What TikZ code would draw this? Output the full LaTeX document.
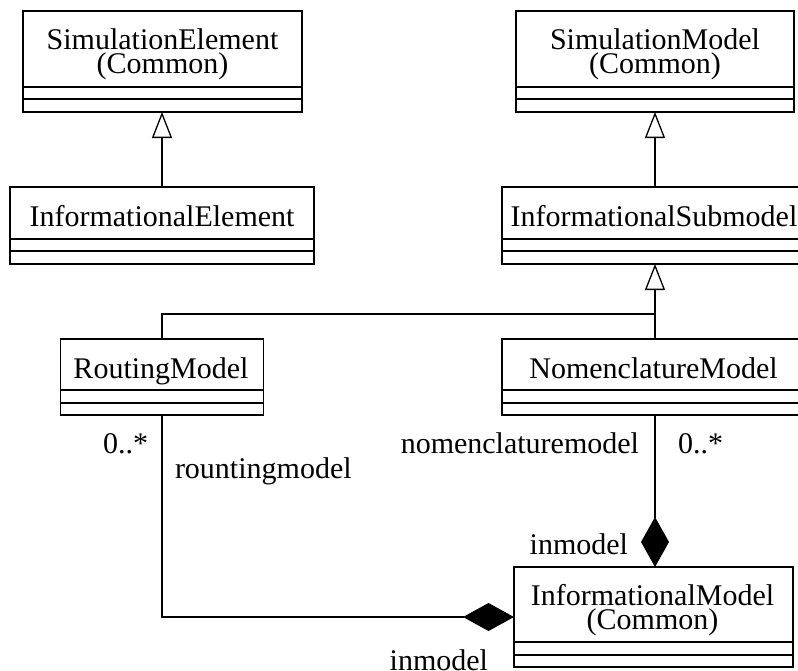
\documentclass[tikz,border=0pt]{standalone}
\usepackage{fontspec}
\setmainfont{Liberation Serif}
\usetikzlibrary{arrows.meta}
\tikzset{
  clsbox/.style={draw, line width=1.3pt, rectangle, inner sep=0pt, outer sep=0pt},
  lbl/.style={inner sep=0pt, outer sep=0pt, font=\fontsize{30}{24}\selectfont, align=center},
  conn/.style={line width=1.3pt},
  gen/.style={conn, -{Triangle[open, length=26pt, width=20pt, line width=1.3pt]}},
  compv/.style={conn, -{Diamond[length=50pt, width=28pt]}},
  comph/.style={conn, -{Diamond[length=51pt, width=28pt]}},
}
\begin{document}
\begin{tikzpicture}[x=1pt, y=-1pt]
\useasboundingbox (0,0) rectangle (798,670);
\clip (0,0) rectangle (798,670);
\fill[white] (0,0) rectangle (798,670);

% class boxes
\node[clsbox, minimum width=279pt, minimum height=101pt] (se) at (162.5,61.5) {};
\node[clsbox, minimum width=278pt, minimum height=101pt] (sm) at (655,61.5) {};
\node[clsbox, minimum width=304pt, minimum height=77pt] (ie) at (162,225.5) {};
\node[clsbox, minimum width=306pt, minimum height=77pt] (is) at (655,225.5) {};
\node[clsbox, minimum width=203pt, minimum height=76pt] (rm) at (162,377) {};
\node[clsbox, minimum width=306pt, minimum height=76pt] (nm) at (655,377) {};
\node[clsbox, minimum width=279pt, minimum height=100pt] (im) at (653.5,617) {};

% compartments
\foreach \b/\ya/\yb in {se/87/99, sm/87/99, ie/239/251, is/239/251, rm/390/403, nm/390/403, im/642/655}{
  \draw[conn] (\b.west |- 0,\ya) -- (\b.east |- 0,\ya);
  \draw[conn] (\b.west |- 0,\yb) -- (\b.east |- 0,\yb);
}

% class names (base = baseline of the last line)
\node[lbl, anchor=base] (se-t) at (162.5,73) {SimulationElement\\(Common)};
\node[lbl, anchor=base] (sm-t) at (655,73) {SimulationModel\\(Common)};
\node[lbl, anchor=base] (ie-t) at (162,226) {InformationalElement};
\node[lbl, anchor=base] (is-t) at (654,226) {InformationalSubmodel};
\node[lbl, anchor=base] (rm-t) at (161,378) {RoutingModel};
\node[lbl, anchor=base] (nm-t) at (653.5,378) {NomenclatureModel};
\node[lbl, anchor=base] (im-t) at (652.5,629) {InformationalModel\\(Common)};

% generalizations
\draw[gen] (ie.north) -- (ie.north |- se.south);
\draw[gen] (is.north) -- (is.north |- sm.south);
\coordinate (j) at (655,314);
\draw[conn] (rm.north) |- (j);
\draw[gen] (nm.north) -- (is.south);

% compositions
\draw[compv] (nm.south) -- (nm.south |- im.north);
\draw[comph] (rm.south) |- (im.west);

% association labels
\node[lbl, anchor=base east] (m1) at (148,453) {0..*};
\node[lbl, anchor=base west] (r1) at (175,478) {rountingmodel};
\node[lbl, anchor=base east] (n1) at (639,453) {nomenclaturemodel};
\node[lbl, anchor=base west] (m2) at (678,453) {0..*};
\node[lbl, anchor=base east] (i1) at (628,554) {inmodel};
\node[lbl, anchor=base east] (i2) at (488,670) {inmodel};
\end{tikzpicture}
\end{document}
